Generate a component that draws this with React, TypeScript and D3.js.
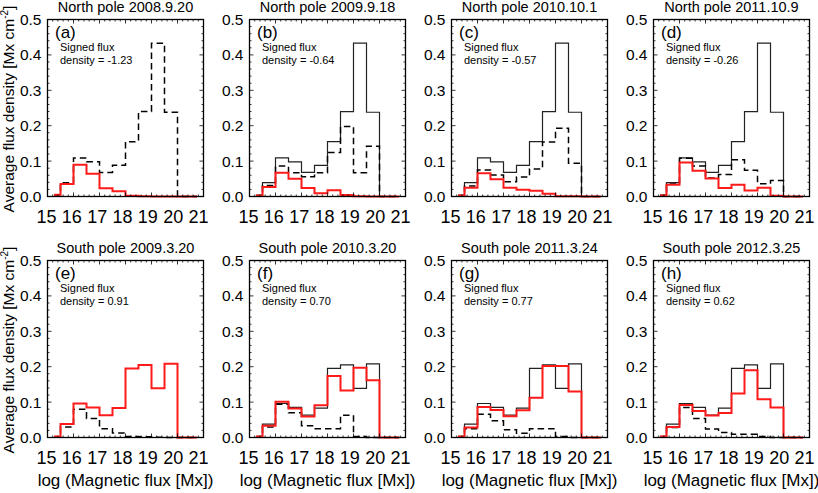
import * as d3 from 'd3';

// bin centres of the log flux histogram (IDL psym=10 style steps)
const binCenters = [15.25, 15.75, 16.25, 16.75, 17.25, 17.75, 18.25, 18.75, 19.25, 19.75, 20.25, 20.75];
const xTickValues = [15, 16, 17, 18, 19, 20, 21];
const yTickValues = [0, 0.1, 0.2, 0.3, 0.4, 0.5];
const yTickLabels = ['0.0', '0.1', '0.2', '0.3', '0.4', '0.5'];

const northTitles = ['North pole 2008.9.20', 'North pole 2009.9.18', 'North pole 2010.10.1', 'North pole 2011.10.9'];
const southTitles = ['South pole 2009.3.20', 'South pole 2010.3.20', 'South pole 2011.3.24', 'South pole 2012.3.25'];
const northTags = ['(a)', '(b)', '(c)', '(d)'];
const southTags = ['(e)', '(f)', '(g)', '(h)'];
const northSigned = ['-1.23', '-0.64', '-0.57', '-0.26'];
const southSigned = ['0.91', '0.70', '0.77', '0.62'];

// reference distributions (the first epoch), drawn thin black in later panels
const northReference = [0.004, 0.039, 0.109, 0.098, 0.068, 0.088, 0.155, 0.24, 0.433, 0.238, 0, 0];
const southReference = [0.003, 0.038, 0.096, 0.085, 0.063, 0.083, 0.195, 0.205, 0.139, 0.208, 0, 0];

// negative polarity (dashed)
const negA = northReference;
const negB = [0.002, 0.031, 0.086, 0.067, 0.056, 0.067, 0.124, 0.198, 0.067, 0.142, 0, 0];
const negC = [0.002, 0.03, 0.075, 0.061, 0.042, 0.055, 0.078, 0.154, 0.193, 0.094, 0, 0];
const negD = [0.003, 0.035, 0.108, 0.086, 0.052, 0.062, 0.104, 0.074, 0.036, 0.045, 0, 0];
const negE = [0.002, 0.03, 0.08, 0.054, 0.025, 0.013, 0.003, 0.002, 0.001, 0, 0, 0];
const negF = [0.002, 0.03, 0.094, 0.07, 0.033, 0.025, 0.025, 0.063, 0.003, 0, 0, 0];
const negG = [0.002, 0.025, 0.066, 0.047, 0.022, 0.012, 0.025, 0.025, 0.003, 0, 0, 0];
const negH = [0.002, 0.028, 0.085, 0.054, 0.024, 0.014, 0.009, 0.009, 0.003, 0, 0, 0];

// positive polarity (red)
const posA = [0.005, 0.035, 0.09, 0.064, 0.023, 0.015, 0.002, 0.001, 0, 0, 0, 0];
const posB = [0.003, 0.027, 0.067, 0.05, 0.024, 0.009, 0.018, 0.004, 0.001, 0, 0, 0];
const posC = [0.003, 0.025, 0.066, 0.049, 0.025, 0.019, 0.016, 0.008, 0.001, 0.001, 0, 0];
const posD = [0.003, 0.033, 0.096, 0.073, 0.051, 0.024, 0.033, 0.017, 0.025, 0.002, 0, 0];
const posE = southReference;
const posF = [0.003, 0.033, 0.101, 0.082, 0.059, 0.091, 0.174, 0.133, 0.197, 0.162, 0, 0];
const posG = [0.003, 0.028, 0.086, 0.078, 0.06, 0.077, 0.112, 0.202, 0.202, 0.13, 0, 0];
const posH = [0.003, 0.03, 0.092, 0.075, 0.062, 0.069, 0.124, 0.19, 0.108, 0.085, 0, 0];

const FONT = 'Liberation Sans, Arial, Helvetica, sans-serif';
const COL_X = [47.5, 249.5, 451.5, 653.5];
const ROW_Y = [19.5, 260.5];
const PW = 156;
const PH = 177;

interface PanelProps {
  x0: number;
  y0: number;
  title: string;
  tag: string;
  signed: string;
  solid: number[] | null;
  dashed: number[];
  red: number[];
  xTitle: boolean;
}

const Panel = ({ x0, y0, title, tag, signed, solid, dashed, red, xTitle }: PanelProps) => {
  const x = d3.scaleLinear().domain([15, 21]).range([0, PW]);
  const y = d3.scaleLinear().domain([0, 0.5]).range([PH, 0]);
  // tick labels sit slightly tighter than the ticks in the original
  const xLabel = d3.scaleLinear().domain([15, 21]).range([-1, 151]);

  const step = d3
    .line<number>()
    .x((_, i) => x(binCenters[i]))
    .y((d) => y(d))
    .curve(d3.curveStep);

  const xMinor = d3.range(15, 21.001, 0.2);
  const yMinor = d3.range(0, 0.5001, 0.02);

  return (
    <g transform={`translate(${x0},${y0})`}>
      <text x={PW / 2} y={-7.5} textAnchor="middle" fontSize={14.5} fontFamily={FONT}>
        {title}
      </text>
      {solid && <path d={step(solid) ?? ''} fill="none" stroke="#222" strokeWidth={1.2} />}
      <path d={step(dashed) ?? ''} fill="none" stroke="#000" strokeWidth={1.5} strokeDasharray="6.5,4" />
      <path d={step(red) ?? ''} fill="none" stroke="#ff1a1a" strokeWidth={2} />
      <rect x={0} y={0} width={PW} height={PH} fill="none" stroke="#000" strokeWidth={1.3} />
      {xMinor.map((v) => {
        const major = Math.abs(v - Math.round(v)) < 1e-6;
        const len = major ? 4 : 2;
        return (
          <g key={`xm${v.toFixed(1)}`} stroke="#000" strokeWidth={0.8}>
            <line x1={x(v)} x2={x(v)} y1={PH} y2={PH - len} />
            <line x1={x(v)} x2={x(v)} y1={0} y2={len} />
          </g>
        );
      })}
      {yMinor.map((v, i) => {
        const len = i % 5 === 0 ? 4 : 2;
        return (
          <g key={`ym${i}`} stroke="#000" strokeWidth={0.8}>
            <line x1={0} x2={len} y1={y(v)} y2={y(v)} />
            <line x1={PW} x2={PW - len} y1={y(v)} y2={y(v)} />
          </g>
        );
      })}
      {yTickValues.map((v, i) => (
        <text key={`yl${i}`} x={-6} y={y(v)} dy="0.36em" textAnchor="end" fontSize={15.5} fontFamily={FONT}>
          {yTickLabels[i]}
        </text>
      ))}
      {xTickValues.map((v) => (
        <text key={`xl${v}`} x={xLabel(v)} y={PH + 26} textAnchor="middle" fontSize={18} fontFamily={FONT}>
          {v}
        </text>
      ))}
      <text x={7.5} y={18} fontSize={17} fontFamily={FONT}>
        {tag}
      </text>
      <text x={12.5} y={31.5} fontSize={11} fontFamily={FONT}>
        Signed flux
      </text>
      <text x={12.5} y={44.5} fontSize={11} fontFamily={FONT}>
        density = {signed}
      </text>
      {xTitle && (
        <text x={PW / 2} y={PH + 48} textAnchor="middle" fontSize={17} fontFamily={FONT}>
          log (Magnetic flux [Mx])
        </text>
      )}
    </g>
  );
};

const App = () => {
  const northNeg = [negA, negB, negC, negD];
  const northPos = [posA, posB, posC, posD];
  const southNeg = [negE, negF, negG, negH];
  const southPos = [posE, posF, posG, posH];

  return (
    <svg
      width={818}
      height={493}
      style={{ position: 'absolute', left: 0, top: 0, background: '#fff' }}
    >
      {ROW_Y.map((ry) => (
        <text
          key={`yt${ry}`}
          transform={`translate(14,${ry + PH / 2 + 1}) rotate(-90)`}
          textAnchor="middle"
          fontSize={15.5}
          fontFamily={FONT}
        >
          Average flux density [Mx cm
          <tspan fontSize={10} dy={-6}>
            -2
          </tspan>
          <tspan dy={6}>]</tspan>
        </text>
      ))}
      {COL_X.map((cx, i) => (
        <Panel
          key={`n${i}`}
          x0={cx}
          y0={ROW_Y[0]}
          title={northTitles[i]}
          tag={northTags[i]}
          signed={northSigned[i]}
          solid={i === 0 ? null : northReference}
          dashed={northNeg[i]}
          red={northPos[i]}
          xTitle={false}
        />
      ))}
      {COL_X.map((cx, i) => (
        <Panel
          key={`s${i}`}
          x0={cx}
          y0={ROW_Y[1]}
          title={southTitles[i]}
          tag={southTags[i]}
          signed={southSigned[i]}
          solid={i === 0 ? null : southReference}
          dashed={southNeg[i]}
          red={southPos[i]}
          xTitle={true}
        />
      ))}
    </svg>
  );
};

export default App;
